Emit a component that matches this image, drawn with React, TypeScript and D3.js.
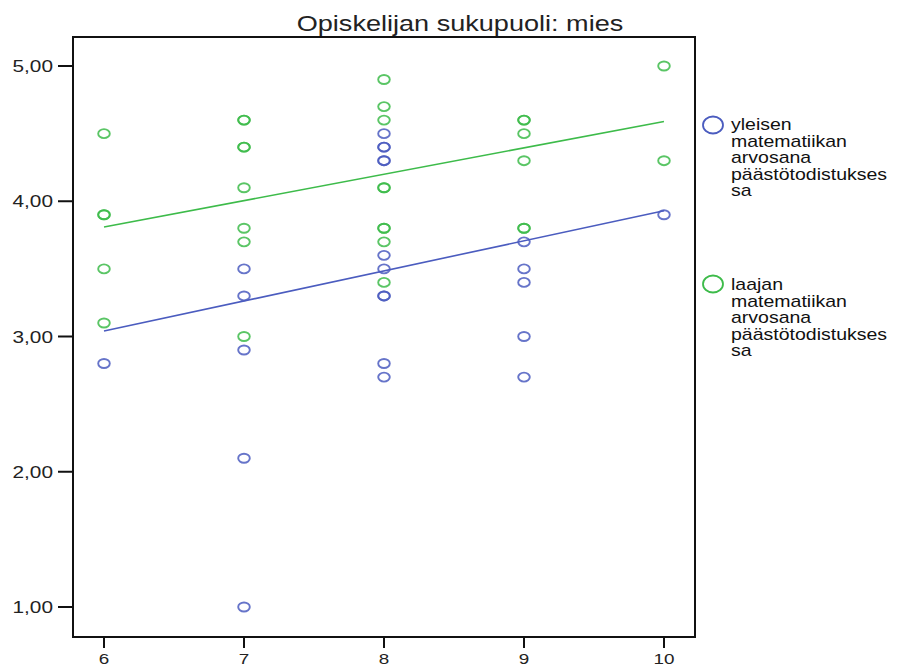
import React from "react";
import * as d3 from "d3";

const title = "Opiskelijan sukupuoli: mies";
const xTicks = [6, 7, 8, 9, 10];
const yTicks = [1, 2, 3, 4, 5];

// [x, y] points; duplicates drawn twice (appear bolder)
const bluePoints: [number, number][] = [
  [6, 2.8],
  [7, 3.5], [7, 3.3], [7, 2.9], [7, 2.1], [7, 1.0],
  [8, 4.5], [8, 4.4], [8, 4.4], [8, 4.3], [8, 4.3], [8, 3.6], [8, 3.5], [8, 3.3], [8, 3.3], [8, 2.8], [8, 2.7],
  [9, 3.7], [9, 3.5], [9, 3.4], [9, 3.0], [9, 2.7],
  [10, 3.9],
];
const greenPoints: [number, number][] = [
  [6, 4.5], [6, 3.9], [6, 3.9], [6, 3.5], [6, 3.1],
  [7, 4.6], [7, 4.6], [7, 4.4], [7, 4.4], [7, 4.1], [7, 3.8], [7, 3.7], [7, 3.0],
  [8, 4.9], [8, 4.7], [8, 4.6], [8, 4.1], [8, 4.1], [8, 3.8], [8, 3.8], [8, 3.7], [8, 3.4],
  [9, 4.6], [9, 4.6], [9, 4.5], [9, 4.3], [9, 3.8], [9, 3.8],
  [10, 5.0], [10, 4.3],
];
// fit line endpoints at x = 6 and x = 10
const fitX = [6, 10];
const blueFit = [3.04, 3.93];
const greenFit = [3.81, 4.59];

const legendBlue = ["yleisen", "matematiikan", "arvosana", "päästötodistukses", "sa"];
const legendGreen = ["laajan", "matematiikan", "arvosana", "päästötodistukses", "sa"];

const BLUE = "#4b5cbf";
const GREEN = "#3dbb4a";

function SText(props: { x: number; y: number; sx: number; size: number; anchor?: string; fill?: string; children: any }) {
  const { x, y, sx, size, anchor, fill, children } = props;
  return (
    <text transform={`translate(${x},${y}) scale(${sx},1)`} textAnchor={anchor || "start"} fontSize={size} fill={fill || "#111"}>
      {children}
    </text>
  );
}

export default function App() {
  const W = 898, H = 666;
  const left = 73, right = 695, top = 37, bottom = 637;
  const x = d3.scaleLinear().domain([6, 10]).range([104, 664]);
  const y = d3.scaleLinear().domain([1, 5]).range([607, 66]);
  const line = d3.line<[number, number]>().x((d) => x(d[0])).y((d) => y(d[1]));
  const font = "'Liberation Sans', Arial, sans-serif";
  const fmt = (v: number) => v.toFixed(2).replace(".", ",");

  return (
    <svg width={W} height={H} style={{ position: "absolute", left: 0, top: 0, background: "#fff" }} fontFamily={font}>
      <rect x={0} y={0} width={W} height={H} fill="#fff" />
      <SText x={460} y={31} sx={1.26} size={21.5} anchor="middle" fill="#222">{title}</SText>
      <rect x={left} y={top} width={right - left} height={bottom - top} fill="none" stroke="#111" strokeWidth={2} />
      {yTicks.map((t) => (
        <g key={"y" + t}>
          <line x1={left - 15} x2={left} y1={y(t)} y2={y(t)} stroke="#111" strokeWidth={2} />
          <SText x={53} y={y(t) + 6} sx={1.3} size={16} anchor="end" fill="#222">{fmt(t)}</SText>
        </g>
      ))}
      {xTicks.map((t) => (
        <g key={"x" + t}>
          <line x1={x(t)} x2={x(t)} y1={bottom} y2={bottom + 11} stroke="#111" strokeWidth={2} />
          <SText x={x(t)} y={664} sx={1.3} size={14.5} anchor="middle" fill="#222">{t}</SText>
        </g>
      ))}
      <path d={line(fitX.map((v, i) => [v, greenFit[i]]) as any) || ""} stroke={GREEN} strokeWidth={1.6} fill="none" />
      <path d={line(fitX.map((v, i) => [v, blueFit[i]]) as any) || ""} stroke={BLUE} strokeWidth={1.6} fill="none" />
      {greenPoints.map((p, i) => (
        <ellipse key={"g" + i} cx={x(p[0])} cy={y(p[1])} rx={5.8} ry={4.5} fill="none" stroke={GREEN} strokeWidth={1.9} opacity={0.85} />
      ))}
      {bluePoints.map((p, i) => (
        <ellipse key={"b" + i} cx={x(p[0])} cy={y(p[1])} rx={5.8} ry={4.5} fill="none" stroke={BLUE} strokeWidth={1.9} opacity={0.85} />
      ))}
      <ellipse cx={713} cy={125} rx={10} ry={8.5} fill="none" stroke={BLUE} strokeWidth={1.8} />
      {legendBlue.map((s, i) => (
        <SText key={"lb" + i} x={731} y={130 + i * 16.5} sx={1.22} size={16} fill="#111">{s}</SText>
      ))}
      <ellipse cx={713} cy={284} rx={10} ry={8.5} fill="none" stroke={GREEN} strokeWidth={1.8} />
      {legendGreen.map((s, i) => (
        <SText key={"lg" + i} x={731} y={290 + i * 16.5} sx={1.22} size={16} fill="#111">{s}</SText>
      ))}
    </svg>
  );
}
